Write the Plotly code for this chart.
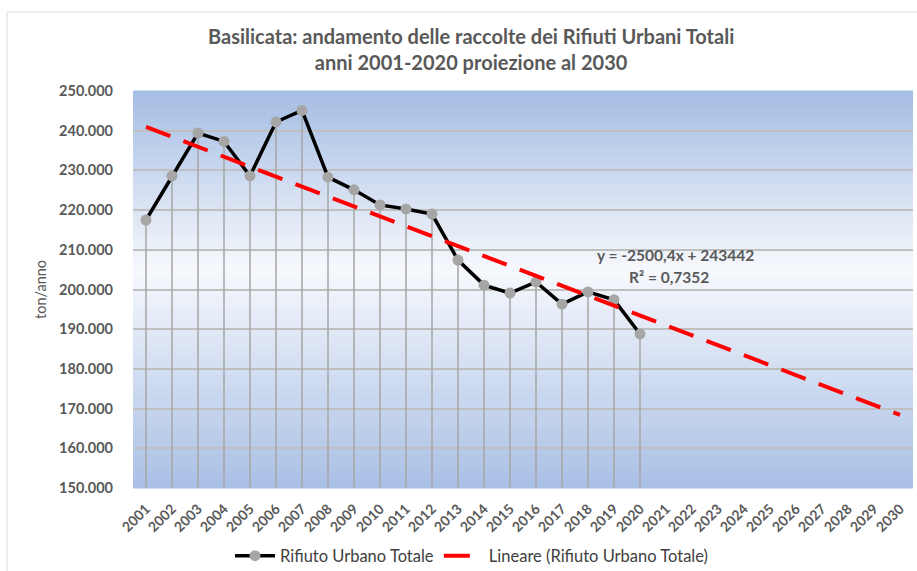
import plotly.graph_objects as go

years = [str(y) for y in range(2001, 2031)]
data_years = years[:20]
rifiuti = [217500, 228600, 239400, 237300, 228600, 242200, 245100, 228300, 225100, 221300,
           220300, 219000, 207400, 201100, 199100, 201900, 196300, 199400, 197400, 188800]
trend_slope = -2500.4
trend_intercept = 243442
trend_x = [years[0], years[-1]]
trend_y = [trend_intercept + trend_slope * 1, trend_intercept + trend_slope * 30]

title_l1 = "Basilicata: andamento delle raccolte dei Rifiuti Urbani Totali"
title_l2 = "anni 2001-2020 proiezione al 2030"
y_title = "ton/anno"
eq_text = "y = -2500,4x + 243442"
r2_text = "R² = 0,7352"

FONT = "Lato"
GREY = "#595959"

FW, FH = 917, 571
# plot area in page pixels: x 133..913, y 91..488
L, R, T, B = 133, 4, 91, FH - 488
W, H = FW - L - R, FH - T - B


def px(x):
    return (x - L) / W


def py(y):
    return (FH - B - y) / H


fig = go.Figure()

# gradient background stripes
top = (165, 189, 227)
mid = (247, 249, 253)
bot = (170, 192, 229)
n = 60
midpos = 0.45  # fraction from top
for i in range(n):
    f0 = i / n
    f1 = (i + 1) / n
    fc = (f0 + f1) / 2
    if fc < midpos:
        t = fc / midpos
        c = tuple(int(top[k] + (mid[k] - top[k]) * t) for k in range(3))
    else:
        t = (fc - midpos) / (1 - midpos)
        c = tuple(int(mid[k] + (bot[k] - mid[k]) * t) for k in range(3))
    fig.add_shape(type="rect", xref="paper", yref="paper", x0=0, x1=1,
                  y0=1 - f1 - 0.001, y1=1 - f0 + 0.001, line_width=0,
                  fillcolor="rgb(%d,%d,%d)" % c, layer="below")

# drop lines
dx, dy = [], []
for yr, v in zip(data_years, rifiuti):
    dx += [yr, yr, None]
    dy += [150000, v, None]
fig.add_trace(go.Scatter(x=dx, y=dy, mode="lines", line=dict(color="#a6a6a6", width=1.5),
                         showlegend=False, hoverinfo="skip"))

fig.add_trace(go.Scatter(x=data_years, y=rifiuti, mode="lines+markers", name="Rifiuto Urbano Totale",
                         line=dict(color="black", width=3.5),
                         marker=dict(color="#a6a6a6", size=11)))

fig.add_trace(go.Scatter(x=trend_x, y=trend_y, mode="lines", name="Lineare (Rifiuto Urbano Totale)",
                         line=dict(color="#ff0000", width=4, dash="26px,14px")))

# titles
fig.add_annotation(x=px(471), y=py(49), xref="paper", yref="paper",
                   text="<b>" + title_l1 + "<br>" + title_l2 + "</b>",
                   showarrow=False, font=dict(family=FONT, size=20, color=GREY),
                   xanchor="center", yanchor="middle")
fig.add_annotation(x=px(40), y=py(290), xref="paper", yref="paper", text=y_title, textangle=-90,
                   showarrow=False, font=dict(family=FONT, size=14.5, color=GREY),
                   xanchor="center", yanchor="middle")

fig.add_annotation(x=px(675), y=py(255), xref="paper", yref="paper", text="<b>" + eq_text + "</b>", showarrow=False,
                   font=dict(family=FONT, size=15.5, color=GREY), xanchor="center", yanchor="middle")
fig.add_annotation(x=px(669), y=py(277), xref="paper", yref="paper", text="<b>" + r2_text + "</b>", showarrow=False,
                   font=dict(family=FONT, size=15.5, color=GREY), xanchor="center", yanchor="middle")

# chart border (top and left edges visible)
fig.add_shape(type="line", xref="paper", yref="paper", x0=px(7), x1=px(940), y0=py(12), y1=py(12),
              line=dict(color="#d9d9d9", width=1), layer="above")
fig.add_shape(type="line", xref="paper", yref="paper", x0=px(7), x1=px(7), y0=py(600), y1=py(12),
              line=dict(color="#d9d9d9", width=1), layer="above")

fig.update_layout(
    width=FW, height=FH,
    margin=dict(l=L, r=R, t=T, b=B, autoexpand=False),
    paper_bgcolor="white", plot_bgcolor="white",
    separators=",.",
    font=dict(family=FONT, color=GREY),
    xaxis=dict(type="category", categoryorder="array", categoryarray=years, range=[-0.5, 29.5],
               tickangle=-45, showgrid=False, automargin=False,
               tickfont=dict(family=FONT, size=14, color=GREY, weight="bold"),
               ticklabelstandoff=9,
               ticks="", showline=False, zeroline=False),
    yaxis=dict(range=[150000, 250000], dtick=10000, tickformat=",d", automargin=False,
               gridcolor="#bfbfbf", gridwidth=1.5, showline=False, zeroline=False,
               tickfont=dict(family=FONT, size=14.5, color=GREY, weight="bold"),
               ticklabelstandoff=19),
    legend=dict(orientation="h", x=px(472), xanchor="center", y=py(556), yanchor="middle",
                font=dict(family=FONT, size=16.5, color="#404040"), itemwidth=40,
                bgcolor="rgba(0,0,0,0)"),
)

fig.write_html("out.html", config={"displayModeBar": False},
               post_script="document.body.style.margin='0';document.body.style.overflow='hidden';")
